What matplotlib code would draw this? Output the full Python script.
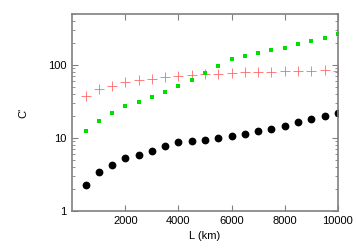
import numpy as np
import matplotlib
matplotlib.use("Agg")
from matplotlib import pyplot as plt
from matplotlib.ticker import LogLocator, NullFormatter, FixedLocator

plt.rcParams['font.family'] = ['Liberation Sans', 'DejaVu Sans']

L = np.arange(500, 10001, 500)

# black dots
c_black = [2.23, 3.43, 4.2, 5.35, 5.82, 6.61, 7.67, 8.7, 8.98, 9.36,
           9.97, 10.6, 11.4, 12.3, 13.4, 14.4, 16.4, 18.0, 19.8, 21.8]
# green squares
c_green = [12.3, 16.9, 22.0, 27.4, 31.1, 36.1, 43.1, 51.6, 63.0, 78.7,
           96.3, 120, 132, 145, 158, 173, 193, 212, 236, 262]
# red pluses
c_red = [37.3, 46.5, 52.1, 58.6, 61.8, 65.0, 68.0, 70.2, 73.8, 75.5,
         75.5, 77.9, 78.9, 80.4, 81.2, 82.2, 83.8, 83.8, 85.3, 83.8]

xticks = [2000, 4000, 6000, 8000, 10000]

fig = plt.figure(figsize=(3.56, 2.49), dpi=100)
ax = fig.add_axes([0.203, 0.153, 0.746, 0.791])

ax.plot(L, c_red, linestyle='none', marker='+', color='#ff6868',
        markersize=7, markeredgewidth=0.6)
ax.plot(L, c_green, linestyle='none', marker='s', color='#00e000',
        markersize=3.2, markeredgewidth=0)
ax.plot(L, c_black, linestyle='none', marker='o', color='black',
        markersize=5.6, markeredgewidth=0)

ax.set_yscale('log')
ax.set_xlim(0, 10000)
ax.set_ylim(1, 500)
ax.xaxis.set_major_locator(FixedLocator(xticks))
ax.set_xticklabels([str(t) for t in xticks])
ax.yaxis.set_major_locator(LogLocator(base=10))
ax.yaxis.set_minor_locator(LogLocator(base=10, subs=np.arange(2, 10)))
ax.yaxis.set_minor_formatter(NullFormatter())
ax.yaxis.set_major_formatter(matplotlib.ticker.FuncFormatter(lambda v, p: "%g" % v))

for s in ax.spines.values():
    s.set_color('#808080')
    s.set_linewidth(1.2)
ax.tick_params(which='both', direction='in', top=True, right=True,
               color='#808080', labelsize=8, pad=4)
ax.tick_params(which='major', length=4)
ax.tick_params(which='minor', length=2)

ax.set_xlabel("L (km)", fontsize=8, labelpad=3)
ax.set_ylabel("C'", fontsize=8, labelpad=14)

fig.savefig("out.png", dpi=100)
